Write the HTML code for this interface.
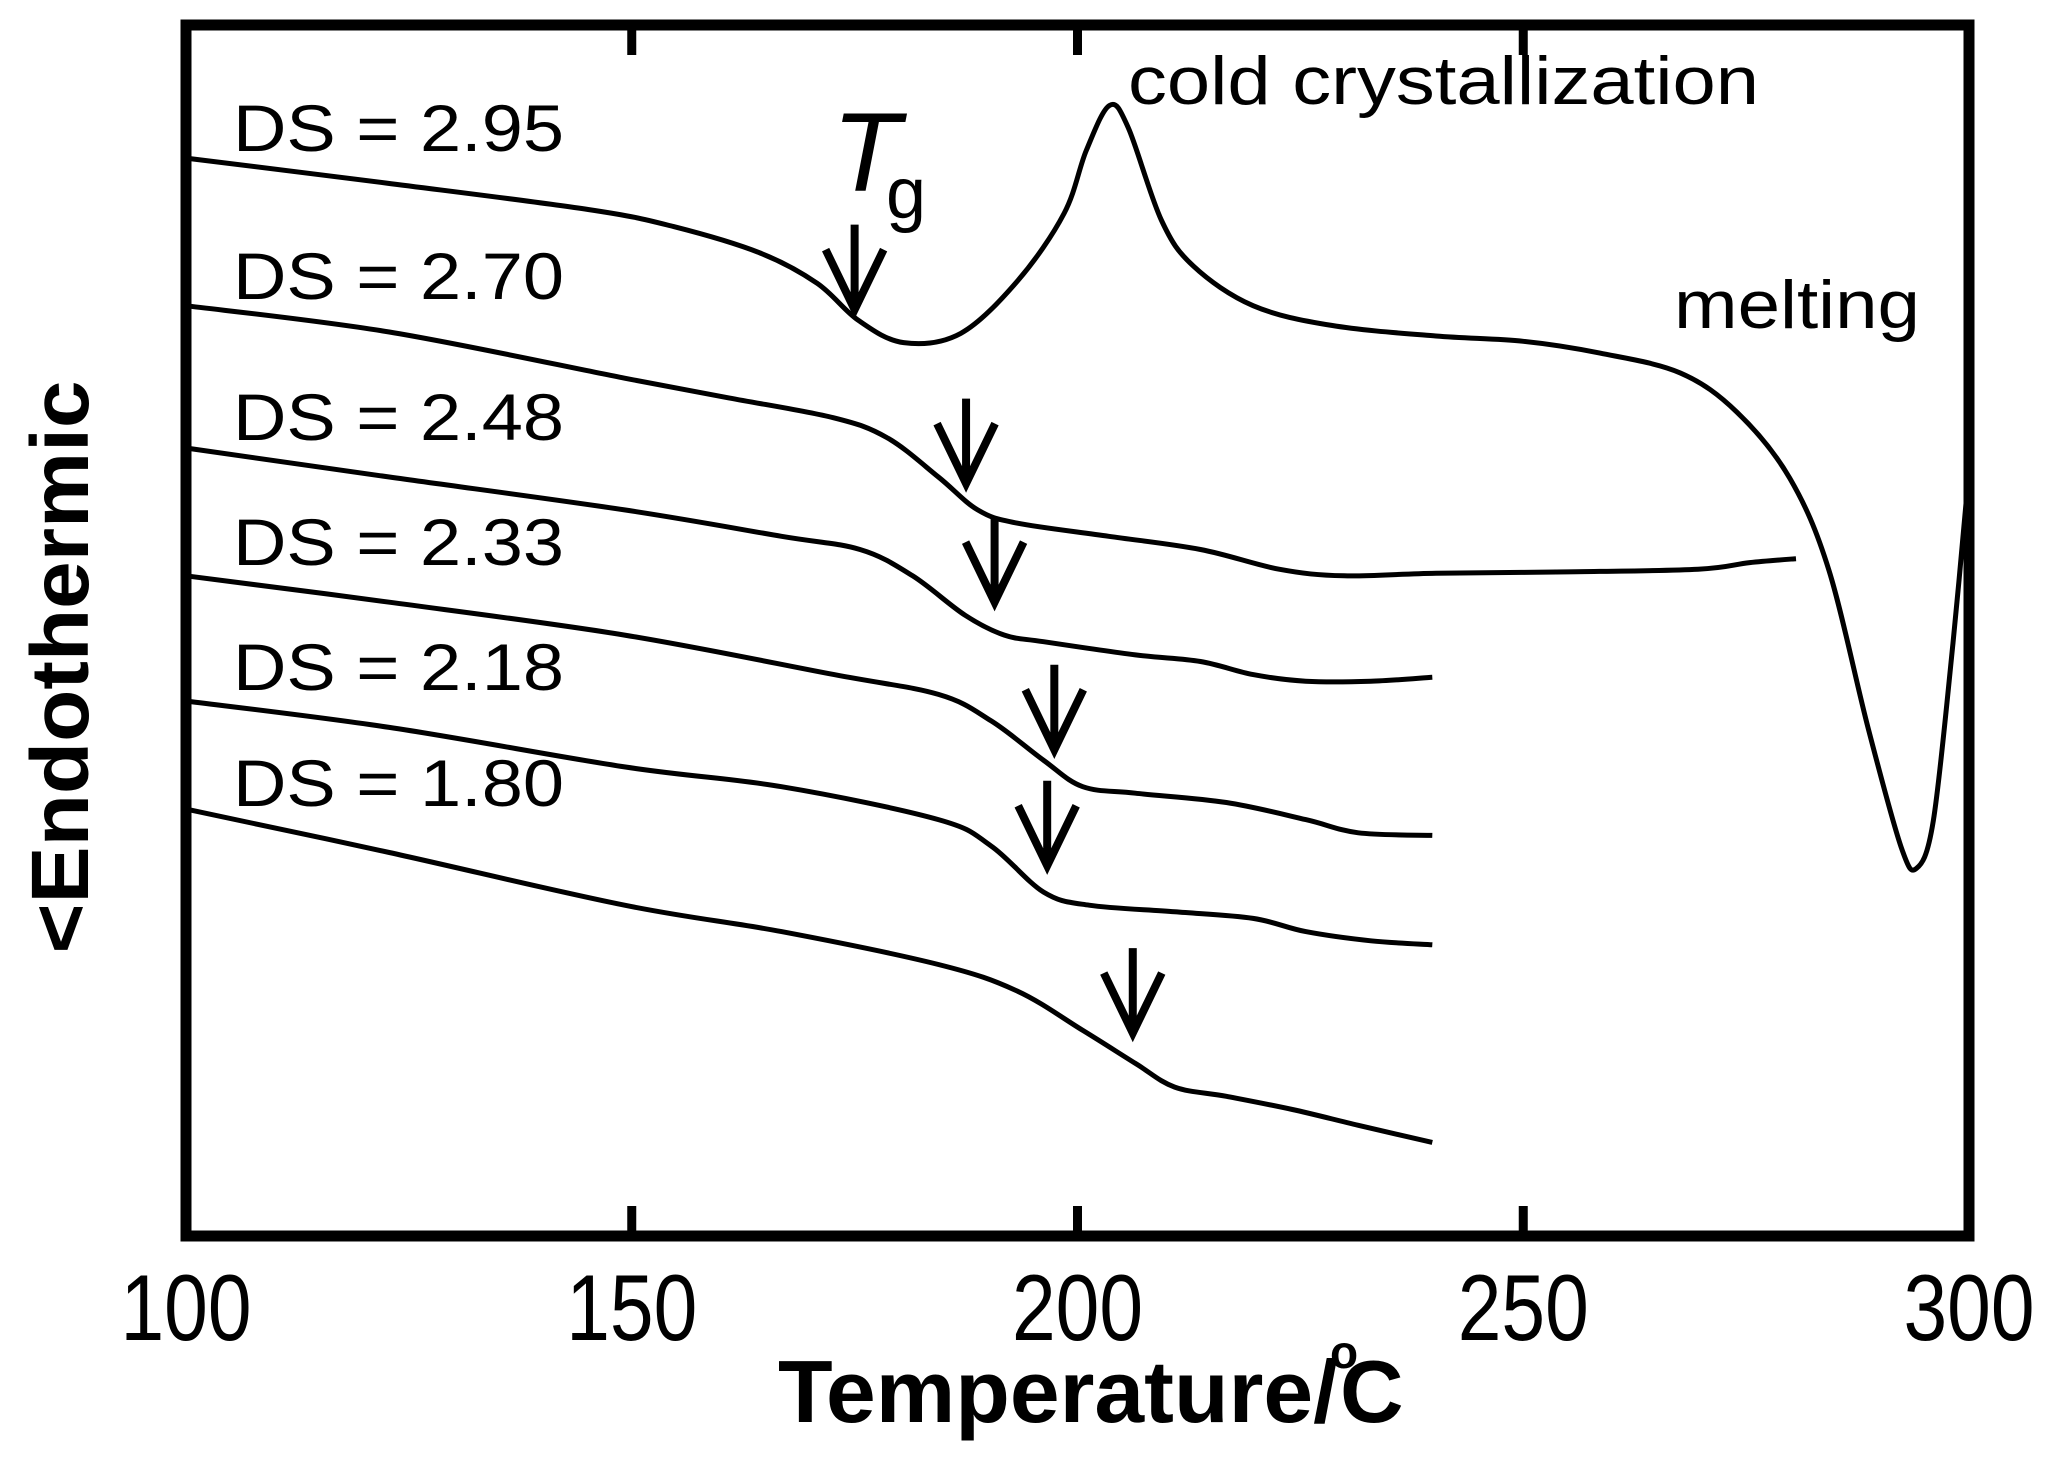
<!DOCTYPE html>
<html><head><meta charset="utf-8"><style>
html,body{margin:0;padding:0;background:#fff;}
svg{display:block;}
text{font-family:"Liberation Sans",sans-serif;fill:#000;}
</style></head><body>
<svg id="chart" width="2051" height="1457" viewBox="0 0 2051 1457" xmlns="http://www.w3.org/2000/svg">
<g id="curves"></g>
<g id="arrows"></g>
<rect x="186" y="25" width="1783" height="1211" fill="none" stroke="#000" stroke-width="11"/>
<g id="ticks"></g>
<g id="ticklabels"></g>
<g id="labels"></g>
<text x="1128" y="104" font-size="68" textLength="631" lengthAdjust="spacingAndGlyphs">cold crystallization</text>
<text x="1674" y="328" font-size="68" textLength="246" lengthAdjust="spacingAndGlyphs">melting</text>
<text x="832" y="191" font-size="112" font-style="italic">T</text>
<text x="886" y="218" font-size="72">g</text>
<text x="778" y="1422" font-size="88" font-weight="bold" textLength="560" lengthAdjust="spacingAndGlyphs">Temperature/</text>
<text x="1330" y="1368" font-size="46" font-weight="bold">o</text>
<text x="1340" y="1422" font-size="88" font-weight="bold">C</text>
<text transform="translate(88,667) rotate(-90)" text-anchor="middle" font-size="82" font-weight="bold" textLength="573" lengthAdjust="spacingAndGlyphs">&lt;Endothermic</text>
</svg>
<script>
const seriesNames = ["DS = 2.95","DS = 2.70","DS = 2.48","DS = 2.33","DS = 2.18","DS = 1.80"];
const temps295 = [100,122.5,145.1,154.7,164.4,170.8,175.4,180.5,186.9,193.3,198.5,201.0,203.6,205.7,209.4,213,219.7,228.5,240.2,250,258.6,267.6,274,279.9,284.3,288.7,292.4,294.1,296,298.2,300];
const signal295 = [818,799,779,766,746,723,695,678,685,725,776,824,858,841,771,736,706,691,683,679,670,655,625,575,505,385,295,279,315,450,581];
const temps270 = [100,122.8,149.2,160.9,172.6,178.6,184.4,188.8,193.2,203.5,213.8,222.6,229.9,240.2,254.9,269.6,275.4,280.6];
const signal270 = [706,686,651,636,621,606,576,551,541,531,521,506,501,503,504,506,511,514];
const temps248 = [100,122.8,149.2,166.8,175.6,181.5,187.4,191.8,196.2,206.5,213.8,219.7,225.6,232.9,239.8];
const signal248 = [598,576,551,531,521,501,471,456,451,441,436,426,421,421,424];
const temps233 = [100,122.8,149.2,172.7,184.4,190.3,196.2,200.6,206.5,216.7,225.6,231.5,239.8];
const signal233 = [501,481,456,426,411,391,361,341,336,329,316,306,304];
const temps218 = [100,122.8,149.2,166.8,184.4,190.3,196.2,201.3,210.9,219.7,225.6,232.9,239.8];
const signal218 = [406,386,356,341,316,296,261,251,246,241,231,224,221];
const temps180 = [100,122.8,149.2,166.8,184.4,193.2,200.6,206.5,210.9,216.7,224.1,231.5,239.8];
const signal180 = [324,291,251,231,206,186,156,131,113,106,96,84,71];
const tgTemps = [175.0,187.5,190.7,197.4,196.6,206.2];
const tgSignal = [703,571,481,369,281,154];
const xTicks = [100,150,200,250,300];
const xTickLabels = ["100","150","200","250","300"];

const X0=186,X1=1969,Y0=1236,Y1=25;
function xs(t){return X0+(t-100)/(300-100)*(X1-X0);}
function ys(v){return Y0-v/919*(Y0-Y1);}
const NS="http://www.w3.org/2000/svg";
const allT=[temps295,temps270,temps248,temps233,temps218,temps180];
const allS=[signal295,signal270,signal248,signal233,signal218,signal180];
const cg=document.getElementById('curves');
function smoothPath(pts){
  let d="M"+pts[0][0].toFixed(1)+","+pts[0][1].toFixed(1);
  for(let i=0;i<pts.length-1;i++){
    const p0=pts[Math.max(0,i-1)],p1=pts[i],p2=pts[i+1],p3=pts[Math.min(pts.length-1,i+2)];
    const c1x=p1[0]+(p2[0]-p0[0])/6,c1y=p1[1]+(p2[1]-p0[1])/6;
    const c2x=p2[0]-(p3[0]-p1[0])/6,c2y=p2[1]-(p3[1]-p1[1])/6;
    d+=" C"+c1x.toFixed(1)+","+c1y.toFixed(1)+" "+c2x.toFixed(1)+","+c2y.toFixed(1)+" "+p2[0].toFixed(1)+","+p2[1].toFixed(1);
  }
  return d;
}
for(let k=0;k<allT.length;k++){
  const pts=allT[k].map((t,i)=>[xs(t),ys(allS[k][i])]);
  const p=document.createElementNS(NS,'path');
  p.setAttribute('d',smoothPath(pts));
  p.setAttribute('fill','none');p.setAttribute('stroke','#000');p.setAttribute('stroke-width','5');
  
  
  cg.appendChild(p);
}
const ag=document.getElementById('arrows');
for(let k=0;k<tgTemps.length;k++){
  const x=xs(tgTemps[k]),y=ys(tgSignal[k]);
  const g=document.createElementNS(NS,'path');
  g.setAttribute('d',`M${x},${y-85} L${x},${y-4} M${x-29},${y-60} L${x},${y} L${x+29},${y-60}`);
  g.setAttribute('fill','none');g.setAttribute('stroke','#000');g.setAttribute('stroke-width','8');
  
  
  ag.appendChild(g);
}
const tg=document.getElementById('ticks'),tl=document.getElementById('ticklabels');
xTicks.forEach((t,i)=>{
  const x=xs(t);
  if(i>0&&i<xTicks.length-1){
    const a=document.createElementNS(NS,'path');
    a.setAttribute('d',`M${x},${Y1} L${x},${Y1+30} M${x},${Y0} L${x},${Y0-30}`);
    a.setAttribute('stroke','#000');a.setAttribute('stroke-width','9');
    
    
    tg.appendChild(a);
  }
  const tx=document.createElementNS(NS,'text');
  tx.setAttribute('x',x);tx.setAttribute('y',1340);tx.setAttribute('text-anchor','middle');tx.setAttribute('font-size','94');
  tx.setAttribute('textLength','131');tx.setAttribute('lengthAdjust','spacingAndGlyphs');
  tx.textContent=xTickLabels[i];
  
  
  tl.appendChild(tx);
});
const lg=document.getElementById('labels');
const labelY=[151,299,440,565,690,806];
seriesNames.forEach((n,i)=>{
  const tx=document.createElementNS(NS,'text');
  tx.setAttribute('x',233);tx.setAttribute('y',labelY[i]);tx.setAttribute('font-size','66');
  tx.setAttribute('textLength','331');tx.setAttribute('lengthAdjust','spacingAndGlyphs');
  tx.textContent=n;
  
  
  lg.appendChild(tx);
});
</script>
</body></html>
